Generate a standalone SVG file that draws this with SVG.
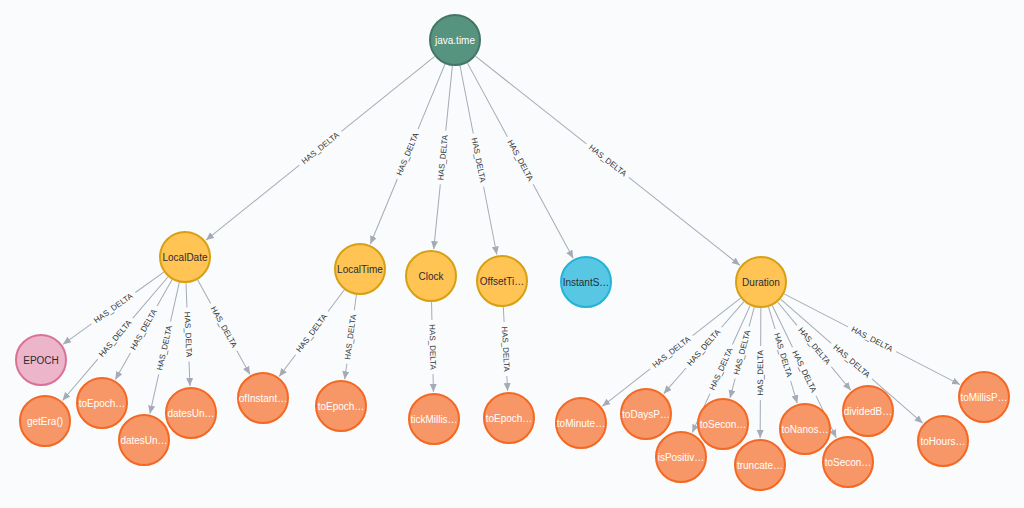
<svg xmlns="http://www.w3.org/2000/svg" width="1024" height="508" viewBox="0 0 1024 508">
<style>
.bg{fill:#F9FBFD}
.e line{stroke:#A5ABB6;stroke-width:1}
.e line.h{marker-end:url(#ah)}
.e text{font-family:"Liberation Sans",Arial,sans-serif;font-size:8px;fill:#333;text-anchor:middle;dominant-baseline:central}
.n circle{stroke-width:2}
.n text{font-family:"Liberation Sans",Arial,sans-serif;font-size:10px;text-anchor:middle;dominant-baseline:central}
.g circle{fill:#569480;stroke:#447666}
.g text{fill:#fff}
.y circle{fill:#FFC454;stroke:#D7A013}
.y text{fill:#2A2C34}
.p circle{fill:#ECB5C9;stroke:#DA7298}
.p text{fill:#2A2C34}
.b circle{fill:#57C7E3;stroke:#23B3D7}
.b text{fill:#2A2C34}
.o circle{fill:#F79767;stroke:#F36924}
.o text{fill:#fff}
</style>
<defs>
<marker id="ah" markerUnits="userSpaceOnUse" markerWidth="9" markerHeight="8" refX="8" refY="3.5" orient="auto">
<path d="M0,0 L8,3.5 L0,7 z" fill="#A5ABB6"/>
</marker>
</defs>
<rect class="bg" x="0" y="0" width="1024" height="508"/>
<g id="connectors" class="e">
<g transform="translate(455,40) rotate(141.21)"><line x1="26" y1="0" x2="145.7" y2="0"/><line class="h" x1="199.7" y1="0" x2="319.4" y2="0"/><text x="172.7" y="0" transform="rotate(180 172.7 0)">HAS_DELTA</text></g>
<g transform="translate(455,40) rotate(112.53)"><line x1="26" y1="0" x2="96.46" y2="0"/><line class="h" x1="150.46" y1="0" x2="220.92" y2="0"/><text x="123.46" y="0" transform="rotate(180 123.46 0)">HAS_DELTA</text></g>
<g transform="translate(455,40) rotate(95.81)"><line x1="26" y1="0" x2="91.11" y2="0"/><line class="h" x1="145.11" y1="0" x2="210.22" y2="0"/><text x="118.11" y="0" transform="rotate(180 118.11 0)">HAS_DELTA</text></g>
<g transform="translate(455,40) rotate(78.97)"><line x1="26" y1="0" x2="95.27" y2="0"/><line class="h" x1="149.27" y1="0" x2="218.54" y2="0"/><text x="122.27" y="0">HAS_DELTA</text></g>
<g transform="translate(455,40) rotate(61.57)"><line x1="26" y1="0" x2="110.09" y2="0"/><line class="h" x1="164.09" y1="0" x2="248.18" y2="0"/><text x="137.09" y="0">HAS_DELTA</text></g>
<g transform="translate(455,40) rotate(38.34)"><line x1="26" y1="0" x2="167.57" y2="0"/><line class="h" x1="221.57" y1="0" x2="363.13" y2="0"/><text x="194.57" y="0">HAS_DELTA</text></g>
<g transform="translate(185,257) rotate(144.42)"><line x1="26" y1="0" x2="61.03" y2="0"/><line class="h" x1="115.03" y1="0" x2="150.05" y2="0"/><text x="88.03" y="0" transform="rotate(180 88.03 0)">HAS_DELTA</text></g>
<g transform="translate(185,257) rotate(130.49)"><line x1="26" y1="0" x2="80.32" y2="0"/><line class="h" x1="134.32" y1="0" x2="188.63" y2="0"/><text x="107.32" y="0" transform="rotate(180 107.32 0)">HAS_DELTA</text></g>
<g transform="translate(185,257) rotate(119.62)"><line x1="26" y1="0" x2="56.47" y2="0"/><line class="h" x1="110.47" y1="0" x2="140.94" y2="0"/><text x="83.47" y="0" transform="rotate(180 83.47 0)">HAS_DELTA</text></g>
<g transform="translate(185,257) rotate(102.63)"><line x1="26" y1="0" x2="66.27" y2="0"/><line class="h" x1="120.27" y1="0" x2="160.54" y2="0"/><text x="93.27" y="0" transform="rotate(180 93.27 0)">HAS_DELTA</text></g>
<g transform="translate(185,257) rotate(87.80)"><line x1="26" y1="0" x2="50.56" y2="0"/><line class="h" x1="104.56" y1="0" x2="129.12" y2="0"/><text x="77.56" y="0">HAS_DELTA</text></g>
<g transform="translate(185,257) rotate(61.05)"><line x1="26" y1="0" x2="53.07" y2="0"/><line class="h" x1="107.07" y1="0" x2="134.14" y2="0"/><text x="80.07" y="0">HAS_DELTA</text></g>
<g transform="translate(360,269) rotate(126.94)"><line x1="26" y1="0" x2="53.2" y2="0"/><line class="h" x1="107.2" y1="0" x2="134.4" y2="0"/><text x="80.2" y="0" transform="rotate(180 80.2 0)">HAS_DELTA</text></g>
<g transform="translate(360,269) rotate(97.90)"><line x1="26" y1="0" x2="41.66" y2="0"/><line class="h" x1="95.66" y1="0" x2="111.31" y2="0"/><text x="68.66" y="0" transform="rotate(180 68.66 0)">HAS_DELTA</text></g>
<g transform="translate(431,276) rotate(88.80)"><line x1="26" y1="0" x2="44.02" y2="0"/><line class="h" x1="98.02" y1="0" x2="116.03" y2="0"/><text x="71.02" y="0">HAS_DELTA</text></g>
<g transform="translate(502,281) rotate(87.08)"><line x1="26" y1="0" x2="41.09" y2="0"/><line class="h" x1="95.09" y1="0" x2="110.18" y2="0"/><text x="68.09" y="0">HAS_DELTA</text></g>
<g transform="translate(761,282) rotate(141.93)"><line x1="26" y1="0" x2="86.83" y2="0"/><line class="h" x1="140.83" y1="0" x2="201.65" y2="0"/><text x="113.83" y="0" transform="rotate(180 113.83 0)">HAS_DELTA</text></g>
<g transform="translate(761,282) rotate(131.06)"><line x1="26" y1="0" x2="60.04" y2="0"/><line class="h" x1="114.04" y1="0" x2="148.07" y2="0"/><text x="87.04" y="0" transform="rotate(180 87.04 0)">HAS_DELTA</text></g>
<g transform="translate(761,282) rotate(114.56)"><line x1="26" y1="0" x2="68.71" y2="0"/><line class="h" x1="122.71" y1="0" x2="165.42" y2="0"/><text x="95.71" y="0" transform="rotate(180 95.71 0)">HAS_DELTA</text></g>
<g transform="translate(761,282) rotate(104.98)"><line x1="26" y1="0" x2="46" y2="0"/><line class="h" x1="100" y1="0" x2="120" y2="0"/><text x="73" y="0" transform="rotate(180 73 0)">HAS_DELTA</text></g>
<g transform="translate(761,282) rotate(90.31)"><line x1="26" y1="0" x2="64" y2="0"/><line class="h" x1="118" y1="0" x2="156" y2="0"/><text x="91" y="0" transform="rotate(180 91 0)">HAS_DELTA</text></g>
<g transform="translate(761,282) rotate(73.34)"><line x1="26" y1="0" x2="49.22" y2="0"/><line class="h" x1="103.22" y1="0" x2="126.44" y2="0"/><text x="76.22" y="0">HAS_DELTA</text></g>
<g transform="translate(761,282) rotate(64.21)"><line x1="26" y1="0" x2="72.46" y2="0"/><line class="h" x1="126.46" y1="0" x2="172.92" y2="0"/><text x="99.46" y="0">HAS_DELTA</text></g>
<g transform="translate(761,282) rotate(50.33)"><line x1="26" y1="0" x2="56.3" y2="0"/><line class="h" x1="110.3" y1="0" x2="140.6" y2="0"/><text x="83.3" y="0">HAS_DELTA</text></g>
<g transform="translate(761,282) rotate(41.14)"><line x1="26" y1="0" x2="93.34" y2="0"/><line class="h" x1="147.34" y1="0" x2="214.67" y2="0"/><text x="120.34" y="0">HAS_DELTA</text></g>
<g transform="translate(761,282) rotate(27.28)"><line x1="26" y1="0" x2="97.95" y2="0"/><line class="h" x1="151.95" y1="0" x2="223.9" y2="0"/><text x="124.95" y="0">HAS_DELTA</text></g>
</g>
<g id="java-time" class="n g"><circle cx="455" cy="40" r="25"/><text x="455" y="40">java.time</text></g>
<g id="LocalDate" class="n y"><circle cx="185" cy="257" r="25"/><text x="185" y="257">LocalDate</text></g>
<g id="LocalTime" class="n y"><circle cx="360" cy="269" r="25"/><text x="360" y="269">LocalTime</text></g>
<g id="Clock" class="n y"><circle cx="431" cy="276" r="25"/><text x="431" y="276">Clock</text></g>
<g id="OffsetTime" class="n y"><circle cx="502" cy="281" r="25"/><text x="502" y="281">OffsetTi…</text></g>
<g id="InstantSource" class="n b"><circle cx="586" cy="282" r="25"/><text x="586" y="282">InstantS…</text></g>
<g id="Duration" class="n y"><circle cx="761" cy="282" r="25"/><text x="761" y="282">Duration</text></g>
<g id="EPOCH" class="n p"><circle cx="41" cy="360" r="25"/><text x="41" y="360">EPOCH</text></g>
<g id="getEra" class="n o"><circle cx="45" cy="421" r="25"/><text x="45" y="421">getEra()</text></g>
<g id="toEpoch1" class="n o"><circle cx="102" cy="403" r="25"/><text x="102" y="403">toEpoch…</text></g>
<g id="datesUn1" class="n o"><circle cx="144" cy="440" r="25"/><text x="144" y="440">datesUn…</text></g>
<g id="datesUn2" class="n o"><circle cx="191" cy="413" r="25"/><text x="191" y="413">datesUn…</text></g>
<g id="ofInstant" class="n o"><circle cx="263" cy="398" r="25"/><text x="263" y="398">ofInstant…</text></g>
<g id="toEpoch2" class="n o"><circle cx="341" cy="406" r="25"/><text x="341" y="406">toEpoch…</text></g>
<g id="tickMillis" class="n o"><circle cx="434" cy="419" r="25"/><text x="434" y="419">tickMillis…</text></g>
<g id="toEpoch3" class="n o"><circle cx="509" cy="418" r="25"/><text x="509" y="418">toEpoch…</text></g>
<g id="toMinute" class="n o"><circle cx="581" cy="423" r="25"/><text x="581" y="423">toMinute…</text></g>
<g id="toDaysP" class="n o"><circle cx="646" cy="414" r="25"/><text x="646" y="414">toDaysP…</text></g>
<g id="isPositiv" class="n o"><circle cx="681" cy="457" r="25"/><text x="681" y="457">isPositiv…</text></g>
<g id="toSecon1" class="n o"><circle cx="723" cy="424" r="25"/><text x="723" y="424">toSecon…</text></g>
<g id="truncate" class="n o"><circle cx="760" cy="465" r="25"/><text x="760" y="465">truncate…</text></g>
<g id="toNanos" class="n o"><circle cx="805" cy="429" r="25"/><text x="805" y="429">toNanos…</text></g>
<g id="toSecon2" class="n o"><circle cx="848" cy="462" r="25"/><text x="848" y="462">toSecon…</text></g>
<g id="dividedB" class="n o"><circle cx="868" cy="411" r="25"/><text x="868" y="411">dividedB…</text></g>
<g id="toHours" class="n o"><circle cx="943" cy="441" r="25"/><text x="943" y="441">toHours…</text></g>
<g id="toMillisP" class="n o"><circle cx="984" cy="397" r="25"/><text x="984" y="397">toMillisP…</text></g>
</svg>
